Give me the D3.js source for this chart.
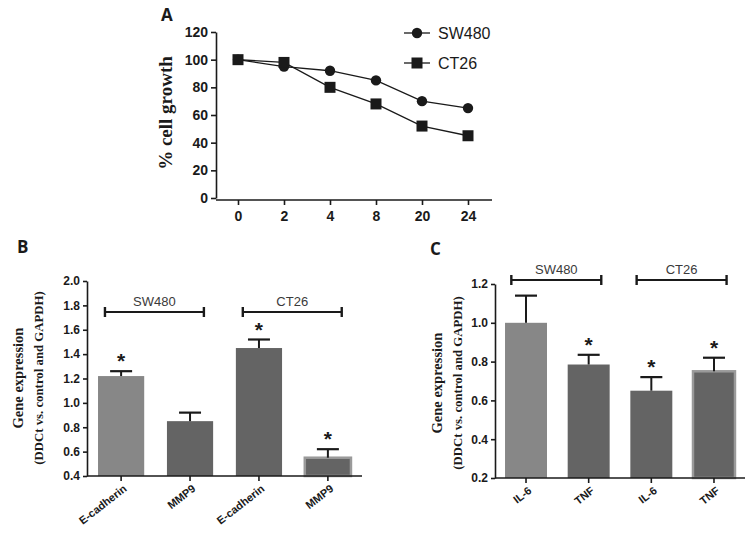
<!DOCTYPE html>
<html>
<head>
<meta charset="utf-8">
<script src="https://cdn.jsdelivr.net/npm/d3@7"></script>
<style>
  body { margin: 0; background: #fff; }
  svg { display: block; }
  .axis path, .axis line { stroke: #1a1a1a; stroke-width: 1.6; }
  .axis text { font-family: Arial, "Liberation Sans", sans-serif; font-weight: bold; fill: #1a1a1a; }
</style>
</head>
<body>
<svg id="chart" width="755" height="533"></svg>
<script>
// Panel A: cell growth over time
const hours = ["0", "2", "4", "8", "20", "24"];
const sw480Growth = [100, 95, 92, 85, 70, 65];
const ct26Growth = [100, 98, 80, 68, 52, 45];
const growthTicks = [0, 20, 40, 60, 80, 100, 120];

// Panel B: E-cadherin / MMP9
const genesB = ["E-cadherin", "MMP9", "E-cadherin", "MMP9"];
const valuesB = [1.22, 0.85, 1.45, 0.55];
const errorsB = [0.04, 0.07, 0.07, 0.07];
const starsB = [true, false, true, true];
const ticksB = [0.4, 0.6, 0.8, 1.0, 1.2, 1.4, 1.6, 1.8, 2.0];

// Panel C: IL-6 / TNF
const genesC = ["IL-6", "TNF", "IL-6", "TNF"];
const valuesC = [1.0, 0.785, 0.65, 0.75];
const errorsC = [0.14, 0.05, 0.07, 0.07];
const starsC = [false, true, true, true];
const ticksC = [0.2, 0.4, 0.6, 0.8, 1.0, 1.2];

const groups = ["SW480", "CT26"];

const svg = d3.select("#chart");
const ink = "#1a1a1a";

// ---------- Panel A ----------
const ax = d3.scalePoint().domain(hours).range([238, 468]);
const ay = d3.scaleLinear().domain([0, 120]).range([198, 32]);

const gA = svg.append("g");

gA.append("g").attr("class", "axis")
  .attr("transform", "translate(216,0)")
  .call(d3.axisLeft(ay).tickValues(growthTicks).tickSize(5).tickSizeOuter(0))
  .selectAll("text").style("font-size", "14px");

gA.append("g").attr("class", "axis")
  .attr("transform", "translate(0,200)")
  .call(d3.axisBottom(ax).tickSize(5).tickSizeOuter(0))
  .call(g => g.select(".domain").attr("d", "M216,0H492"))
  .selectAll("text").style("font-size", "14px").attr("dy", "0.9em");

gA.append("text")
  .attr("transform", "translate(172,113) rotate(-90)")
  .attr("text-anchor", "middle")
  .style("font-family", "'Liberation Serif', 'Times New Roman', serif")
  .style("font-weight", "bold").style("font-size", "19px").attr("fill", ink)
  .text("% cell growth");

gA.append("text").attr("x", 161).attr("y", 21)
  .style("font-family", "'Open Sans', Arial, sans-serif").style("font-weight", "bold")
  .style("font-size", "17px").attr("fill", ink).text("A");

const line = d3.line().x((d, i) => ax(hours[i])).y(d => ay(d));
gA.append("path").datum(sw480Growth).attr("d", line)
  .attr("fill", "none").attr("stroke", ink).attr("stroke-width", 1.3);
gA.append("path").datum(ct26Growth).attr("d", line)
  .attr("fill", "none").attr("stroke", ink).attr("stroke-width", 1.3);

gA.selectAll(".dotSW").data(sw480Growth).join("circle")
  .attr("cx", (d, i) => ax(hours[i])).attr("cy", d => ay(d))
  .attr("r", 5.2).attr("fill", ink);
gA.selectAll(".dotCT").data(ct26Growth).join("rect")
  .attr("x", (d, i) => ax(hours[i]) - 5.5).attr("y", d => ay(d) - 5.5)
  .attr("width", 11).attr("height", 11).attr("fill", ink);

// legend
const legend = gA.append("g");
groups.forEach((name, i) => {
  const ly = 33 + i * 30;
  legend.append("line").attr("x1", 404).attr("x2", 430).attr("y1", ly).attr("y2", ly)
    .attr("stroke", ink).attr("stroke-width", 1.3);
  if (i === 0) {
    legend.append("circle").attr("cx", 417).attr("cy", ly).attr("r", 5.2).attr("fill", ink);
  } else {
    legend.append("rect").attr("x", 411.5).attr("y", ly - 5.5).attr("width", 11).attr("height", 11).attr("fill", ink);
  }
  legend.append("text").attr("x", 438).attr("y", ly + 6)
    .style("font-family", "Arial, 'Liberation Sans', sans-serif").style("font-size", "16px")
    .attr("fill", ink).text(name);
});

// ---------- Bar panel helper ----------
function barPanel(opts) {
  const g = svg.append("g");
  const x = d3.scaleBand().domain(d3.range(opts.genes.length))
    .range([opts.x0, opts.x1]).paddingInner(0.33).paddingOuter(0.16);
  const y = d3.scaleLinear().domain(opts.domain).range([opts.yBottom, opts.yTop]);
  const bw = x.bandwidth();

  // bars
  g.selectAll("rect.bar").data(opts.values).join("rect")
    .attr("class", "bar")
    .attr("x", (d, i) => x(i)).attr("width", bw)
    .attr("y", d => y(d)).attr("height", d => opts.yBottom - y(d))
    .attr("fill", (d, i) => i === 0 ? "#878787" : "#646464")
    .attr("stroke", (d, i) => i === 3 ? "#9a9a9a" : "none")
    .attr("stroke-width", 2.5);

  // error bars
  opts.values.forEach((v, i) => {
    const cx = x(i) + bw / 2;
    const top = y(v + opts.errors[i]);
    g.append("line").attr("x1", cx).attr("x2", cx).attr("y1", y(v)).attr("y2", top)
      .attr("stroke", ink).attr("stroke-width", 2);
    g.append("line").attr("x1", cx - 11).attr("x2", cx + 11).attr("y1", top).attr("y2", top)
      .attr("stroke", ink).attr("stroke-width", 2.2);
    if (opts.stars[i]) {
      g.append("text").attr("x", cx).attr("y", top - 3)
        .attr("text-anchor", "middle")
        .style("font-family", "Arial, sans-serif").style("font-weight", "bold")
        .style("font-size", "21px").attr("fill", ink).text("*");
    }
  });

  // axes
  g.append("g").attr("class", "axis")
    .attr("transform", `translate(${opts.x0},0)`)
    .call(d3.axisLeft(y).tickValues(opts.ticks).tickFormat(d3.format(".1f")).tickSize(4).tickSizeOuter(0))
    .selectAll("text").style("font-size", "12px");

  const xa = g.append("g").attr("class", "axis")
    .attr("transform", `translate(0,${opts.yBottom})`)
    .call(d3.axisBottom(x).tickFormat(i => opts.genes[i]).tickSize(5).tickSizeOuter(0));
  xa.select(".domain").attr("d", `M${opts.x0},0H${opts.x1}`);
  xa.selectAll("text").style("font-size", "11px")
    .attr("text-anchor", "end").attr("x", 0).attr("y", 0).attr("dy", "0.35em")
    .attr("transform", "translate(4,11) rotate(-38)");

  // group brackets
  groups.forEach((name, k) => {
    const a = x(2 * k) + bw * 0.15;
    const b = x(2 * k + 1) + bw * 0.8;
    const by = opts.bracketY;
    g.append("line").attr("x1", a).attr("x2", b).attr("y1", by).attr("y2", by)
      .attr("stroke", ink).attr("stroke-width", 2);
    [a, b].forEach(px => g.append("line").attr("x1", px).attr("x2", px)
      .attr("y1", by - 5).attr("y2", by + 5).attr("stroke", ink).attr("stroke-width", 2.4));
    g.append("text").attr("x", (a + b) / 2).attr("y", by - 6)
      .attr("text-anchor", "middle")
      .style("font-family", "Arial, 'Liberation Sans', sans-serif").style("font-size", "13px")
      .attr("fill", "#3a3a3a").text(name);
  });

  // y labels
  const lab = g.append("g").attr("transform", `translate(${opts.labelX},${opts.labelY}) rotate(-90)`);
  lab.append("text").attr("text-anchor", "middle").attr("y", 0)
    .style("font-family", "'Liberation Serif', 'Times New Roman', serif").style("font-weight", "bold")
    .style("font-size", "14.5px").attr("fill", ink).text("Gene expression");
  lab.append("text").attr("text-anchor", "middle").attr("y", 20)
    .style("font-family", "'Liberation Serif', 'Times New Roman', serif").style("font-weight", "bold")
    .style("font-size", "12.8px").attr("fill", ink).text("(DDCt vs. control and GAPDH)");

  g.append("text").attr("x", opts.letter[0]).attr("y", opts.letter[1])
    .style("font-family", "'Open Sans', Arial, sans-serif").style("font-weight", "bold")
    .style("font-size", "17px").attr("fill", ink).text(opts.letterText);
}

barPanel({
  genes: genesB, values: valuesB, errors: errorsB, stars: starsB, ticks: ticksB,
  domain: [0.4, 2.0], x0: 87, x1: 362, yBottom: 476, yTop: 281,
  bracketY: 312, labelX: 23, labelY: 378,
  letter: [17, 253], letterText: "B"
});

barPanel({
  genes: genesC, values: valuesC, errors: errorsC, stars: starsC, ticks: ticksC,
  domain: [0.2, 1.2], x0: 495, x1: 745, yBottom: 478, yTop: 284,
  bracketY: 280, labelX: 442, labelY: 383,
  letter: [430, 255], letterText: "C"
});
</script>
</body>
</html>
